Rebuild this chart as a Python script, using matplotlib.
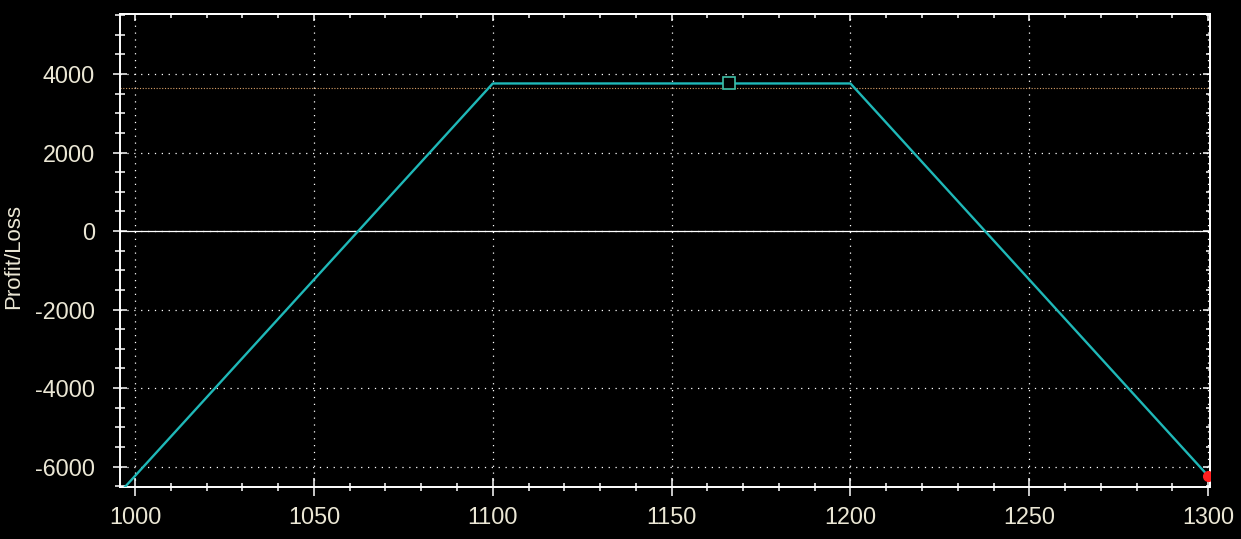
import numpy as np
import matplotlib.pyplot as plt
from matplotlib.ticker import MultipleLocator

plt.rcParams['axes.unicode_minus'] = False
plt.rcParams['font.family'] = ['Liberation Sans', 'DejaVu Sans']

# Payoff profile (price vs profit/loss)
price = [990, 1100, 1200, 1300]
pnl = [-7240, 3760, 3760, -6240]
marker_price, marker_pnl = 1166, 3760      # current position marker
end_price, end_pnl = 1300, -6240           # red end point
ref_level = 3640                           # orange reference line

fg = '#ebe7d5'
line_col = '#1fb8b8'

fig = plt.figure(figsize=(12.41, 5.39), dpi=100, facecolor='black')
ax = fig.add_axes([120/1241, 52/539, 1090/1241, 473/539], facecolor='black')

ax.plot(price, pnl, color=line_col, lw=1.7, zorder=3)
ax.axhline(0, color='white', lw=0.9, zorder=2)
ax.axhline(ref_level, color='#d8a068', lw=0.8, ls=(0, (1, 1.5)), zorder=2)
ax.plot(marker_price, marker_pnl, 's', ms=8.5, mfc='black', mec='#40c0a8', mew=1.2, zorder=4)
ax.plot(end_price, end_pnl, 'o', ms=7, color='#ff2020', zorder=4)

ax.set_xlim(995.8, 1300.5)
ax.set_ylim(-6522, 5530)

ax.xaxis.set_major_locator(MultipleLocator(50))
ax.xaxis.set_minor_locator(MultipleLocator(10))
ax.yaxis.set_major_locator(MultipleLocator(2000))
ax.yaxis.set_minor_locator(MultipleLocator(500))

ax.grid(True, which='major', color='white', lw=0.9, ls=(0, (1, 4.5)), zorder=1)

for s in ax.spines.values():
    s.set_color('white')
    s.set_linewidth(1.4)

ax.tick_params(axis='both', which='both', direction='inout', colors='white',
               labelcolor=fg, labelsize=16.8, width=1.1)
ax.tick_params(axis='x', which='major', length=13, pad=7)
ax.tick_params(axis='x', which='minor', length=6)
ax.tick_params(axis='y', which='major', length=10, pad=13)
ax.tick_params(axis='y', which='minor', length=6.5)

# inward ticks on top and right edges
top = ax.secondary_xaxis('top')
top.xaxis.set_major_locator(MultipleLocator(50))
top.xaxis.set_minor_locator(MultipleLocator(10))
top.tick_params(which='both', direction='in', colors='white', labeltop=False, width=1.1)
top.tick_params(which='major', length=5)
top.tick_params(which='minor', length=3)
right = ax.secondary_yaxis('right')
right.yaxis.set_major_locator(MultipleLocator(2000))
right.yaxis.set_minor_locator(MultipleLocator(500))
right.tick_params(which='both', direction='in', colors='white', labelright=False, width=1.1)
right.tick_params(which='major', length=5)
right.tick_params(which='minor', length=3)
for sec in (top, right):
    for s in sec.spines.values():
        s.set_color('white')
        s.set_linewidth(1.4)

fig.text(14/1241, 1 - 256/539, 'Profit/Loss', color=fg, fontsize=16,
         rotation=90, ha='center', va='center')

fig.savefig('out.png', dpi=100, facecolor='black')
